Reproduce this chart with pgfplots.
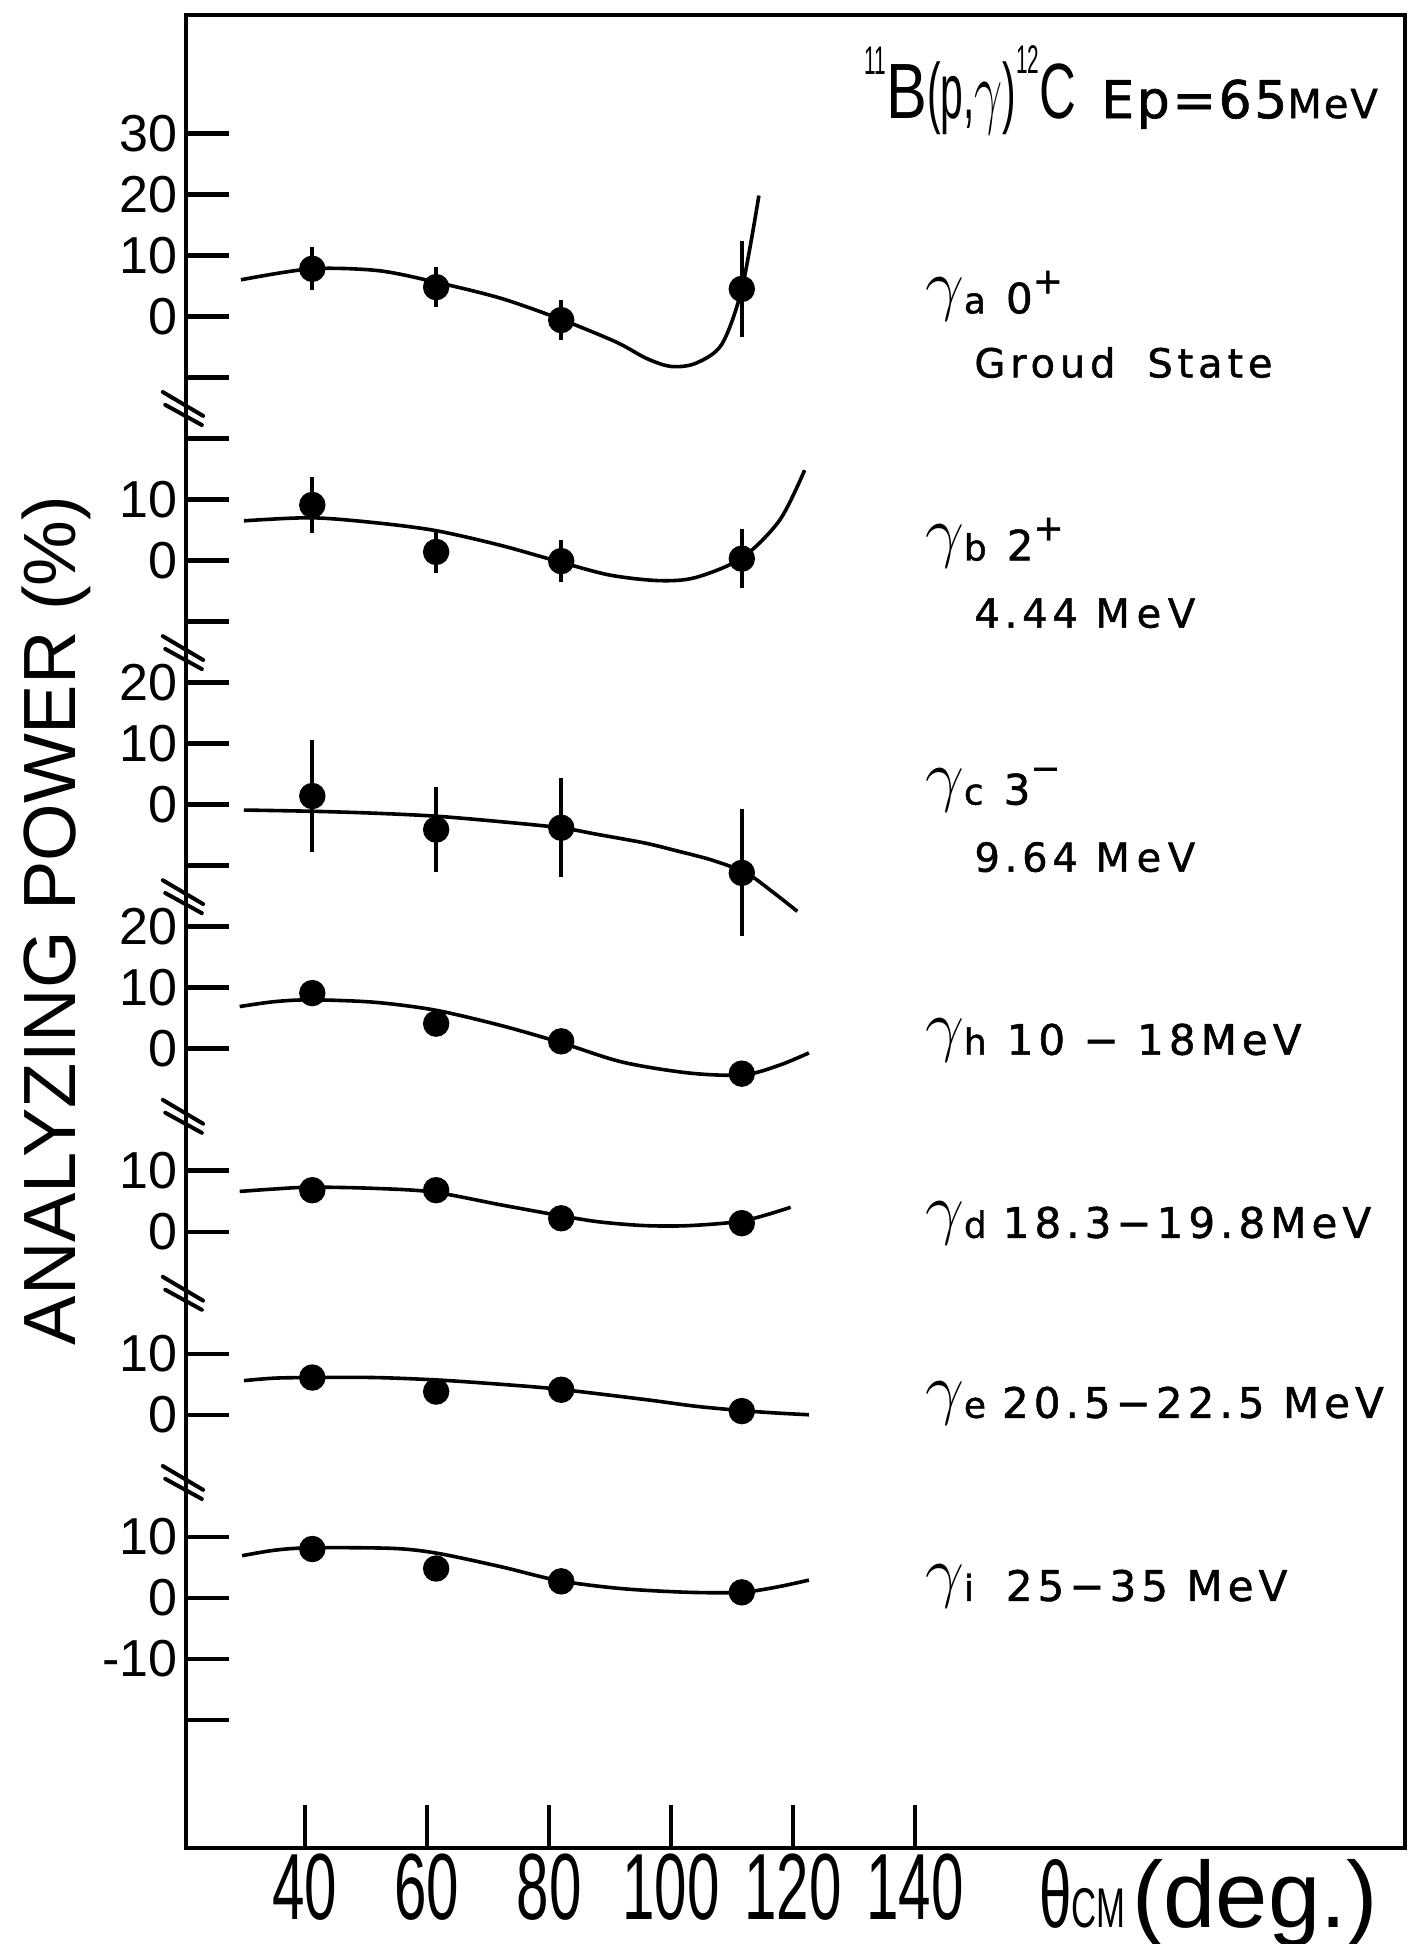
\documentclass[border=0pt]{standalone}
\usepackage{fontspec}
\setmainfont{Liberation Sans}
\newfontfamily\condfont[FakeStretch=0.62]{Liberation Sans}
\newfontfamily\tfa[FakeStretch=0.78]{Liberation Sans}
\newfontfamily\tfb[FakeStretch=0.52]{Liberation Sans}
\newfontfamily\tfc[FakeStretch=0.65]{Liberation Sans}
\newfontfamily\labfont[LetterSpace=12, FakeBold=1.2]{DejaVu Sans}
\newfontfamily\epfont[LetterSpace=5, FakeBold=1.2]{DejaVu Sans}
\usepackage{pgfplots}
\usepackage{pgfplotstable}
\pgfplotsset{compat=1.18}

% gamma with its subscript letter, as in the panel labels
\newcommand{\gam}[1]{\raisebox{1.5pt}{\fontsize{17}{17}\selectfont$\gamma$}{\labfont\fontsize{9}{9}\selectfont #1}}

% measured points: angle, analyzing power (%), error
\pgfplotstableread{
x y e
41.2 7.8 3.5
61.5 4.8 3.3
82.0 -0.6 3.3
111.6 4.5 7.9
}\ptsA
\pgfplotstableread{
x y e
41.2 9.1 4.6
61.5 1.4 3.4
82.0 -0.1 3.4
111.6 0.3 4.8
}\ptsB
\pgfplotstableread{
x y e
41.2 1.4 9.2
61.5 -4.1 6.9
82.0 -3.8 8.1
111.6 -11.2 10.4
}\ptsC
\pgfplotstableread{
x y
41.2 9.1
61.5 4.1
82.0 1.2
111.6 -4.1
}\ptsH
\pgfplotstableread{
x y
41.2 6.8
61.5 6.8
82.0 2.2
111.6 1.4
}\ptsD
\pgfplotstableread{
x y
41.2 6.1
61.5 3.8
82.0 4.1
111.6 0.6
}\ptsE
\pgfplotstableread{
x y
41.2 8.0
61.5 4.8
82.0 2.7
111.6 0.9
}\ptsI

% fitted curves
\pgfplotstableread{
x y
29.5 6.0
41 7.8
52 7.5
61.5 5.6
72 3.0
82 -0.5
91 -4.2
96 -6.9
100 -8.2
104 -7.7
108.3 -4.6
111.6 4.5
114.4 19.8
}\curveA
\pgfplotstableread{
x y
30.0 6.5
41 7.0
51.4 6.2
61.4 4.9
72 2.5
82 -0.3
90 -2.4
98 -3.3
104 -2.8
111.6 0.4
117.8 6.6
121.9 14.8
}\curveB
\pgfplotstableread{
x y
30.0 -0.9
41.1 -1.1
51 -1.4
61.4 -1.9
72 -2.8
81.9 -3.8
88 -4.9
95.7 -6.3
101 -7.6
106.7 -9.1
112.3 -11.2
116.5 -14.2
120.7 -17.5
}\curveC
\pgfplotstableread{
x y
29.3 6.9
35 7.7
41.1 8.0
51.4 7.6
61.4 6.3
72.1 3.8
81.9 1.0
92 -2.2
103 -4.0
111.9 -4.3
117.8 -2.7
122.6 -0.7
}\curveH
\pgfplotstableread{
x y
29.3 6.6
35 7.0
41.1 7.3
51.4 7.1
61 6.5
72.1 4.4
82 2.6
88.3 1.6
95.7 1.0
103 1.0
111.9 1.8
119.6 4.0
}\curveD
\pgfplotstableread{
x y
30 5.6
35 6.0
41 6.1
51.4 6.1
61.7 5.7
72 5.0
81.5 4.2
95.7 2.5
104 1.4
111.4 0.7
117 0.3
122.6 0.0
}\curveE
\pgfplotstableread{
x y
29.7 6.9
35 7.8
41 8.2
54.4 8.1
61.7 7.3
72.1 5.1
81.7 2.8
92 1.5
103 0.9
111.4 0.9
117 1.7
122.6 2.9
}\curveI

\begin{document}
\begin{tikzpicture}
\path[use as bounding box] (-46.5pt,-24pt) rectangle (307.25pt,462pt);
\begin{axis}[
  scale only axis, width=304.75pt, height=458.25pt,
  xmin=20.5, xmax=220.3, ymin=-251, ymax=49.4,
  clip=false,
  axis line style={line width=1.1pt},
  tick align=inside, major tick length=10.75pt,
  tick style={line width=1.1pt, black},
  tick pos=left,
  xtick={40,60,80,100,120,140},
  xticklabels={40,60,80,100,120,140},
  ytick={30,20,10,0,-10,-20,-30,-40,-50,-60,-70,-80,-90,-100,-110,-120,-140,-150,-170,-180,-200,-210,-220,-230},
  yticklabels={30,20,10,0,{},{},10,0,{},20,10,0,{},20,10,0,10,0,10,0,10,0,-10,{}},
  xticklabel style={font=\condfont\fontsize{23.5}{24}\selectfont, inner sep=0pt, yshift=-1.2pt},
  yticklabel style={font=\fontsize{13}{13}\selectfont, inner sep=0pt, xshift=-2pt},
  curve/.style={black, line width=0.9pt, smooth, tension=0.5, mark=none},
  dots/.style={black, only marks, mark=*, mark size=3.1pt},
]
% curves
\addplot[curve] table[y expr=\thisrow{y}] {\curveA};
\addplot[curve] table[y expr=\thisrow{y}-40] {\curveB};
\addplot[curve] table[y expr=\thisrow{y}-80] {\curveC};
\addplot[curve] table[y expr=\thisrow{y}-120] {\curveH};
\addplot[curve] table[y expr=\thisrow{y}-150] {\curveD};
\addplot[curve] table[y expr=\thisrow{y}-180] {\curveE};
\addplot[curve] table[y expr=\thisrow{y}-210] {\curveI};
% data with error bars
\addplot[dots, error bars/.cd, y dir=both, y explicit, error mark=none, error bar style={line width=0.9pt}]
  table[y expr=\thisrow{y}, y error=e] {\ptsA};
\addplot[dots, error bars/.cd, y dir=both, y explicit, error mark=none, error bar style={line width=0.9pt}]
  table[y expr=\thisrow{y}-40, y error=e] {\ptsB};
\addplot[dots, error bars/.cd, y dir=both, y explicit, error mark=none, error bar style={line width=0.9pt}]
  table[y expr=\thisrow{y}-80, y error=e] {\ptsC};
\addplot[dots] table[y expr=\thisrow{y}-120] {\ptsH};
\addplot[dots] table[y expr=\thisrow{y}-150] {\ptsD};
\addplot[dots] table[y expr=\thisrow{y}-180] {\ptsE};
\addplot[dots] table[y expr=\thisrow{y}-210] {\ptsI};

% axis breaks
\draw[line width=1pt, line cap=round] (axis cs:16.7,-12.4) -- (axis cs:23.3,-16.3);
\draw[line width=1pt, line cap=round] (axis cs:17.1,-14.5) -- (axis cs:23.1,-17.8);
\draw[line width=1pt, line cap=round] (axis cs:16.7,-52.4) -- (axis cs:23.3,-56.3);
\draw[line width=1pt, line cap=round] (axis cs:17.1,-54.5) -- (axis cs:23.1,-57.8);
\draw[line width=1pt, line cap=round] (axis cs:16.7,-92.4) -- (axis cs:23.3,-96.3);
\draw[line width=1pt, line cap=round] (axis cs:17.1,-94.5) -- (axis cs:23.1,-97.8);
\draw[line width=1pt, line cap=round] (axis cs:16.7,-128.4) -- (axis cs:23.3,-132.3);
\draw[line width=1pt, line cap=round] (axis cs:17.1,-130.5) -- (axis cs:23.1,-133.8);
\draw[line width=1pt, line cap=round] (axis cs:16.7,-157.4) -- (axis cs:23.3,-161.3);
\draw[line width=1pt, line cap=round] (axis cs:17.1,-159.5) -- (axis cs:23.1,-162.8);
\draw[line width=1pt, line cap=round] (axis cs:16.7,-188.4) -- (axis cs:23.3,-192.3);
\draw[line width=1pt, line cap=round] (axis cs:17.1,-190.5) -- (axis cs:23.1,-193.8);

% title
\node[anchor=base west, inner sep=0pt] at (axis cs:131.6,32.5) {%
  \raisebox{11pt}{\tfb\fontsize{10}{10}\selectfont 11}%
  {\tfa\fontsize{19.6}{20}\selectfont B}%
  {\tfb\fontsize{19.6}{20}\selectfont (p,\scalebox{0.6}[1]{$\gamma$})}%
  \raisebox{11.25pt}{\tfb\fontsize{10}{10}\selectfont 12}%
  {\tfc\fontsize{19.6}{20}\selectfont C}};
\node[anchor=base west, inner sep=0pt] at (axis cs:170.4,32.5) {%
  {\epfont\fontsize{13}{13}\selectfont Ep=65}{\epfont\fontsize{10}{10}\selectfont MeV}};

% panel labels
\begin{scope}[every node/.style={anchor=base west, inner sep=0pt}]
\node at (axis cs:141.5,0.5) {\gam{a}\hspace{5pt}{\labfont\fontsize{10.5}{10.5}\selectfont 0\raisebox{5pt}{\fontsize{9}{9}\selectfont +}}};
\node at (axis cs:149.6,-10) {\labfont\fontsize{10}{10}\selectfont Groud\hspace{8pt}State};
\node at (axis cs:141.5,-40) {\gam{b}\hspace{5pt}{\labfont\fontsize{10.5}{10.5}\selectfont 2\raisebox{5pt}{\fontsize{9}{9}\selectfont +}}};
\node at (axis cs:149.6,-51) {\labfont\fontsize{10}{10}\selectfont 4.44 M\,e\,V};
\node at (axis cs:141.5,-80) {\gam{c}\hspace{5pt}{\labfont\fontsize{10.5}{10.5}\selectfont 3\raisebox{6pt}{\fontsize{9}{9}\selectfont −}}};
\node at (axis cs:149.6,-91) {\labfont\fontsize{10}{10}\selectfont 9.64 M\,e\,V};
\node at (axis cs:141.5,-121) {\gam{h}\hspace{5pt}{\labfont\fontsize{10.5}{10.5}\selectfont 10 − 18MeV}};
\node at (axis cs:141.5,-151) {\gam{d}\hspace{4pt}{\labfont\fontsize{10.5}{10.5}\selectfont 18.3−19.8MeV}};
\node at (axis cs:141.5,-180.5) {\gam{e}\hspace{4pt}{\labfont\fontsize{10.5}{10.5}\selectfont 20.5−22.5 MeV}};
\node at (axis cs:141.5,-210.5) {\gam{i}\hspace{8pt}{\labfont\fontsize{10.5}{10.5}\selectfont 25−35 MeV}};
\end{scope}

% axis titles
\node[rotate=90, inner sep=0pt, font=\fontsize{18.5}{18.5}\selectfont] at (axis cs:-0.8,-99) {ANALYZING POWER (\%)};
\node[anchor=base west, inner sep=0pt] at (axis cs:160.2,-264) {%
  {\condfont\fontsize{23.5}{24}\selectfont θ}{\condfont\fontsize{14}{14}\selectfont CM}\,{\fontsize{23.5}{24}\selectfont (deg.)}};
\end{axis}
\end{tikzpicture}
\end{document}
